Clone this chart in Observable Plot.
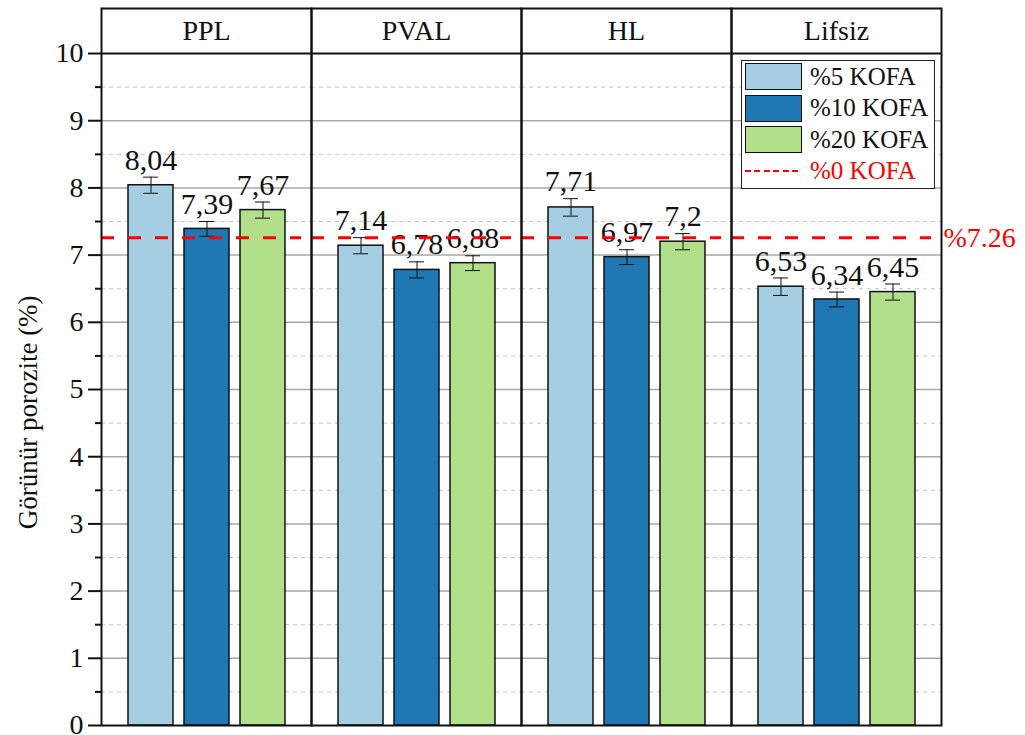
<!DOCTYPE html>
<html>
<head>
<meta charset="utf-8">
<script src="https://cdn.jsdelivr.net/npm/d3@7"></script>
<script src="https://cdn.jsdelivr.net/npm/@observablehq/plot@0.6"></script>
</head>
<body style="margin:0;background:white">
<div id="wrap" style="position:relative;width:1025px;height:735px;font-family:'Liberation Serif'"></div>
<script>
const groups = ["PPL", "PVAL", "HL", "Lifsiz"];
const series = ["%5 KOFA", "%10 KOFA", "%20 KOFA"];
const colors = ["#a6cee3", "#1f78b4", "#b2df8a"];
const pplValues = [8.04, 7.39, 7.67];
const pvalValues = [7.14, 6.78, 6.88];
const hlValues = [7.71, 6.97, 7.2];
const lifsizValues = [6.53, 6.34, 6.45];
const pplErr = [0.12, 0.11, 0.12];
const pvalErr = [0.12, 0.12, 0.11];
const hlErr = [0.13, 0.11, 0.12];
const lifsizErr = [0.13, 0.11, 0.12];
const refValue = 7.26;
const refLabel = "%7.26";
const refLegend = "%0 KOFA";
const yTitle = "Görünür porozite (%)";
const majorTicks = [0, 1, 2, 3, 4, 5, 6, 7, 8, 9, 10];
const minorTicks = [0.5, 1.5, 2.5, 3.5, 4.5, 5.5, 6.5, 7.5, 8.5, 9.5];
const headerTop = 10.67;

const valueSets = [pplValues, pvalValues, hlValues, lifsizValues];
const errSets = [pplErr, pvalErr, hlErr, lifsizErr];
const data = [];
groups.forEach((g, gi) => series.forEach((s, si) => data.push({
  group: g, series: s, value: valueSets[gi][si], err: errSets[gi][si],
  label: String(valueSets[gi][si]).replace(".", ",")
})));
const headers = groups.map(g => ({ group: g, y: (10 + headerTop) / 2 }));
const serif = "Liberation Serif";

const chart = Plot.plot({
  width: 1025, height: 735,
  marginLeft: 100, marginRight: 83, marginTop: 8, marginBottom: 10,
  style: { fontFamily: serif, background: "white", color: "#111", overflow: "visible" },
  fx: { domain: groups, padding: 0, axis: null },
  x: { domain: series, paddingInner: 0.2, paddingOuter: 0.463, axis: null },
  y: { domain: [0, headerTop], axis: null },
  color: { domain: series, range: colors },
  marks: [
    Plot.ruleY(minorTicks, { stroke: "#c4c4c4", strokeWidth: 1, strokeDasharray: "4,4" }),
    Plot.ruleY(majorTicks.filter(d => d > 0 && d < 10), { stroke: "#a8a8a8", strokeWidth: 1.5 }),
    Plot.barY(data, { fx: "group", x: "series", y: "value", fill: "series", stroke: "#111", strokeWidth: 1.5 }),
    Plot.ruleX(data, { fx: "group", x: "series", y1: d => d.value - d.err, y2: d => d.value + d.err, stroke: "#111", strokeWidth: 1 }),
    Plot.tickY(data, { fx: "group", x: "series", y: d => d.value + d.err, stroke: "#111", strokeWidth: 1, insetLeft: 15, insetRight: 15 }),
    Plot.tickY(data, { fx: "group", x: "series", y: d => d.value - d.err, stroke: "#111", strokeWidth: 1, insetLeft: 15, insetRight: 15 }),
    Plot.text(data, { fx: "group", x: "series", y: d => d.value + d.err, text: "label", dy: -17, fontSize: 30, fill: "#111" }),
    Plot.ruleY([refValue], { stroke: "#ff0000", strokeWidth: 3, strokeDasharray: "13,14", insetRight: 10 }),
    Plot.text([{ group: "Lifsiz", y: refValue }], { fx: "group", y: "y", text: () => refLabel, frameAnchor: "right", textAnchor: "start", dx: 2, fill: "#ff0000", fontSize: 28 }),
    Plot.ruleY([10], { stroke: "#111", strokeWidth: 2 }),
    Plot.text(headers, { fx: "group", y: "y", text: "group", frameAnchor: "middle", fontSize: 28, fill: "#111" }),
    Plot.text([{ group: "PPL", y: 4.66 }], { fx: "group", y: "y", text: () => yTitle, frameAnchor: "left", textAnchor: "middle", dx: -73, rotate: -90, fontSize: 27, fill: "#111" }),
    Plot.axisY({ ticks: majorTicks, tickSize: 13, tickPadding: 5, strokeWidth: 2, fontSize: 28, label: null, facetAnchor: "left" }),
    Plot.axisY({ ticks: minorTicks, tickSize: 6, strokeWidth: 2, tickFormat: () => "", label: null, facetAnchor: "left" }),
    Plot.frame({ stroke: "#111", strokeWidth: 2 })
  ]
});

d3.select(chart).attr("font-family", serif).selectAll("text, g").attr("font-family", serif).style("font-family", serif);

const wrap = document.getElementById("wrap");
wrap.appendChild(chart);

const legend = document.createElement("div");
legend.style.cssText = "position:absolute;left:741px;top:60px;width:192px;height:127px;border:1px solid #222;background:white;font-family:'Liberation Serif'";
function makeRow(i) {
  const row = document.createElement("div");
  row.style.cssText = "position:absolute;left:3px;height:27px;display:flex;align-items:center;top:" + (2 + i * 31.5) + "px";
  return row;
}
function makeLabel(text, color) {
  const lab = document.createElement("div");
  lab.style.cssText = "margin-left:8px;font-size:25px;white-space:nowrap;font-family:'Liberation Serif';color:" + color;
  lab.textContent = text;
  return lab;
}
series.forEach((s, i) => {
  const row = makeRow(i);
  const sw = document.createElement("div");
  sw.style.cssText = "width:55px;height:25px;border:1.5px solid #111;background:" + colors[i];
  row.appendChild(sw);
  row.appendChild(makeLabel(s, "#111"));
  legend.appendChild(row);
});
const r = makeRow(3);
const line = document.createElement("div");
line.style.cssText = "width:57px;height:2px;background:repeating-linear-gradient(to right,#ff0000 0 6px,transparent 6px 9.5px)";
r.appendChild(line);
r.appendChild(makeLabel(refLegend, "#ff0000"));
legend.appendChild(r);
wrap.appendChild(legend);
</script>
</body>
</html>
